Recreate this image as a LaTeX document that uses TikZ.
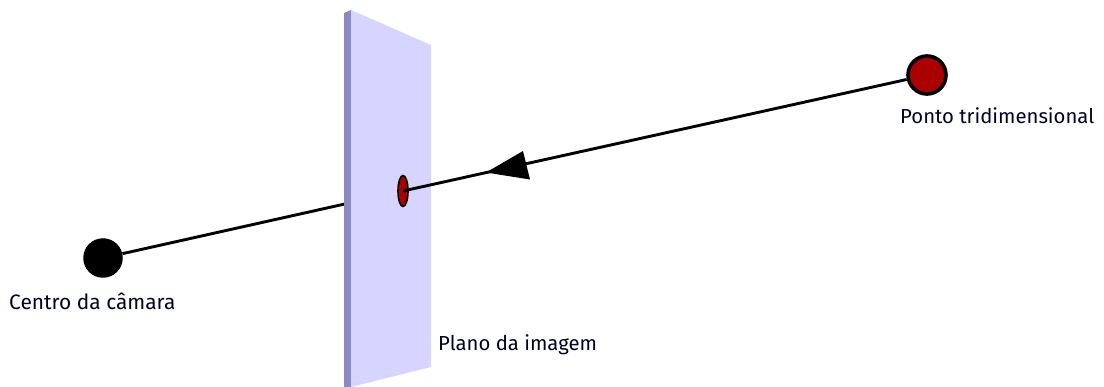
\documentclass[tikz,border=0pt]{standalone}
\usepackage{fontspec}
\usetikzlibrary{shapes.geometric}
\setmainfont{Fira Sans}
\definecolor{face}{RGB}{213,213,255}
\definecolor{edgeband}{RGB}{138,138,192}
\definecolor{dotred}{RGB}{170,0,0}
\tikzset{
  ray/.style={draw=black,line width=2.9pt},
  lab/.style={inner sep=0pt,anchor=base west,font=\fontsize{20.3}{22}\selectfont,text=black!85!blue},
}
\begin{document}
\begin{tikzpicture}[x=1pt,y=-1pt]
\useasboundingbox (0,0) rectangle (1104,387);
% nodes
\node[circle,fill=black,minimum size=39.5pt,inner sep=0pt] (cam) at (103,258) {};
\node[circle,fill=dotred,draw=black,line width=3.6pt,minimum size=38pt,inner sep=0pt] (pt) at (927,75) {};
\coordinate (img) at (403,191);
% ray behind the plate
\draw[ray] (cam) -- (img);
% plate
\fill[edgeband] (344,13) -- (351,10) -- (351,387) -- (344,387) -- cycle;
\fill[face] (351,10) -- (431,45) -- (431,367) -- (351,387) -- cycle;
% image point and ray
\node[ellipse,fill=dotred,draw=black,line width=1.6pt,minimum width=10pt,minimum height=31pt,inner sep=0pt] (imgdot) at (img) {};
\draw[ray] (img) -- (pt);
\fill[black] (486,172.5) -- (523,151) -- (530,179.5) -- cycle;
% labels
\node[lab,font=\fontsize{20.9}{22}\selectfont] (l1) at (9,310) {Centro da câmara};
\node[lab] (l2) at (438,351) {Plano da imagem};
\node[lab] (l3) at (900,124) {Ponto tridimensional};
\end{tikzpicture}
\end{document}
